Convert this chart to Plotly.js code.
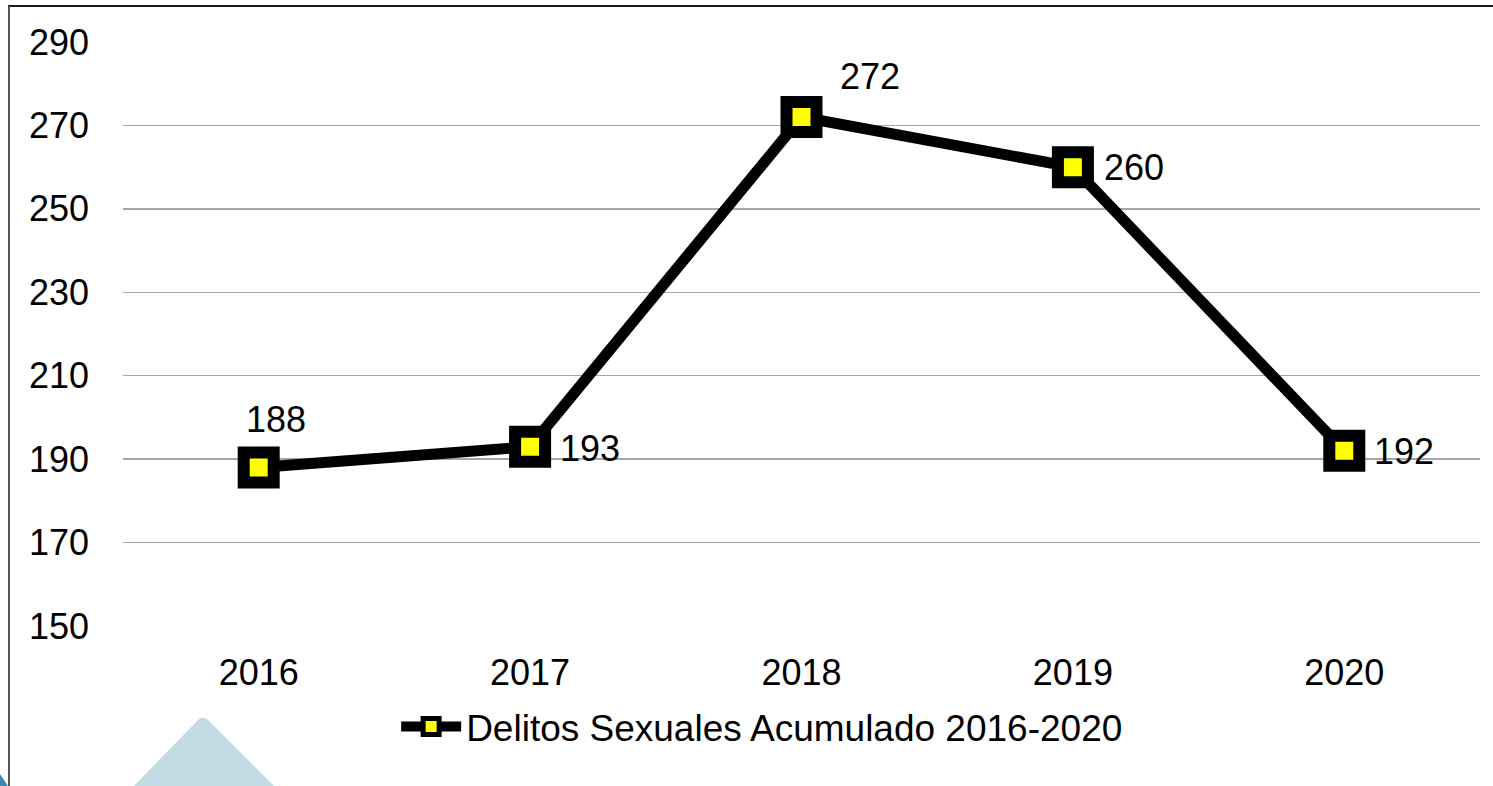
<!DOCTYPE html>
<html>
<head>
<meta charset="utf-8">
<script src="https://cdn.plot.ly/plotly-3.0.1.min.js"></script>
<style>
  html, body { margin: 0; padding: 0; background: #fff; }
  #chart { width: 1493px; height: 786px; }
</style>
</head>
<body>
<div id="chart"></div>
<script>
// values
const years = ['2016', '2017', '2018', '2019', '2020'];
const delitos = [188, 193, 272, 260, 192];
const yTicks = [150, 170, 190, 210, 230, 250, 270, 290];
const seriesName = 'Delitos Sexuales Acumulado 2016-2020';

// where each value label sits relative to its point (pixels)
const labelStyle = [
    { xanchor: 'center', xshift: 17, yshift: 48 },
    { xanchor: 'left', xshift: 28, yshift: -2 },
    { xanchor: 'center', xshift: 68, yshift: 41 },
    { xanchor: 'left', xshift: 29, yshift: 0 },
    { xanchor: 'left', xshift: 28, yshift: -1 }
];

const FONT = 'Liberation Sans, Arial, sans-serif';

// helper: pixel position -> paper coords (plot area 123..1480 x 42..626)
const px = x => (x - 123) / 1357;
const py = y => (626 - y) / 584;

const trace = {
    x: years,
    y: delitos,
    name: seriesName,
    type: 'scatter',
    mode: 'lines+markers',
    line: { color: '#000', width: 11 },
    marker: {
        symbol: 'square',
        size: 30,
        color: '#ffff00',
        line: { color: '#000', width: 12 }
    },
    cliponaxis: false,
    hoverinfo: 'x+y'
};

// value labels: x is the category index on the category axis
const valueLabels = delitos.map((v, i) => ({
    x: years.indexOf(years[i]),
    y: v,
    xref: 'x',
    yref: 'y',
    text: String(v),
    showarrow: false,
    xanchor: labelStyle[i].xanchor,
    yanchor: 'middle',
    xshift: labelStyle[i].xshift,
    yshift: labelStyle[i].yshift,
    font: { family: FONT, size: 36, color: '#000' }
}));

const layout = {
    width: 1493,
    height: 786,
    margin: { l: 123, r: 13, t: 42, b: 160 },
    paper_bgcolor: '#fff',
    plot_bgcolor: '#fff',
    font: { family: FONT, size: 36, color: '#000' },
    showlegend: true,
    legend: {
        orientation: 'h',
        x: 0.471,
        xanchor: 'center',
        y: py(727),
        yanchor: 'middle',
        font: { family: FONT, size: 37, color: '#000' },
        itemwidth: 60
    },
    xaxis: {
        type: 'category',
        range: [-0.5, 4.5],
        showgrid: false,
        zeroline: false,
        showline: false,
        ticks: '',
        ticklabelstandoff: 22,
        tickfont: { family: FONT, size: 36, color: '#000' }
    },
    yaxis: {
        range: [150, 290],
        tickvals: yTicks,
        ticktext: yTicks.map(String),
        showgrid: true,
        gridcolor: '#a6a6a6',
        gridwidth: 1.5,
        zeroline: false,
        showline: false,
        ticks: '',
        ticklabelstandoff: 33,
        tickfont: { family: FONT, size: 36, color: '#000' }
    },
    annotations: valueLabels,
    shapes: [
        // slide frame, top and left
        { type: 'line', xref: 'paper', yref: 'paper', x0: px(8), x1: px(1500), y0: py(6), y1: py(6),
          line: { color: '#1a1a1a', width: 2 } },
        { type: 'line', xref: 'paper', yref: 'paper', x0: px(9), x1: px(9), y0: py(6), y1: py(790),
          line: { color: '#555', width: 2 } },
        // pale blue triangle decoration
        { type: 'path', xref: 'paper', yref: 'paper', layer: 'below',
          path: `M ${px(130)},${py(790)} L ${px(198)},${py(720)} Q ${px(203)},${py(715)} ${px(208)},${py(720)} L ${px(278)},${py(790)} Z`,
          fillcolor: '#c2dbe5', line: { width: 0 } },
        // dark blue corner piece
        { type: 'path', xref: 'paper', yref: 'paper',
          path: `M ${px(0)},${py(774)} L ${px(8)},${py(786)} L ${px(0)},${py(790)} Z`,
          fillcolor: '#3b87ad', line: { width: 0 } }
    ]
};

Plotly.newPlot('chart', [trace], layout, { displayModeBar: false, staticPlot: true });
</script>
</body>
</html>
